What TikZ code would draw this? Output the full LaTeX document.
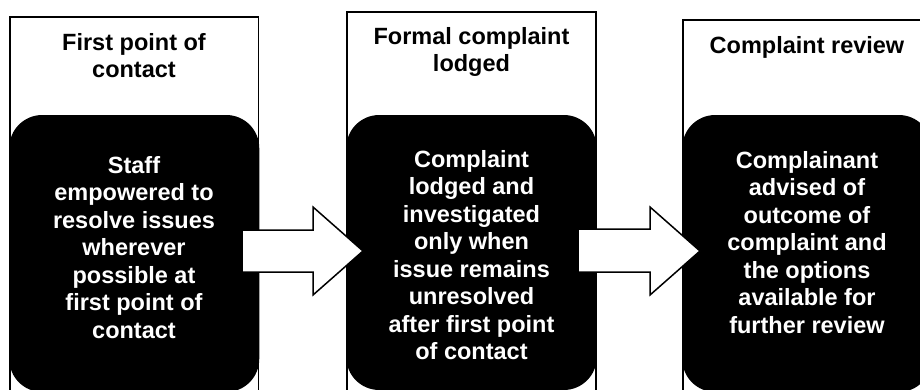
\documentclass[tikz,border=0pt]{standalone}
\usepackage{fontspec}
\setmainfont{Liberation Sans}
\begin{document}
\begin{tikzpicture}[x=1pt,y=-1pt,
  frame/.style={draw=black,line width=1.5pt,fill=white},
  darkbox/.style={fill=black,rounded corners=33pt},
  blockarrow/.style={draw=black,line width=1.5pt,fill=white,line join=miter},
  titletext/.style={anchor=north,align=center,inner sep=0pt,text=black,
    font=\fontsize{23.5}{27.5}\selectfont\bfseries},
  bodytext/.style={anchor=north,align=center,inner sep=0pt,text=white,
    font=\fontsize{23.5}{27.5}\selectfont\bfseries}]
\useasboundingbox (0,0) rectangle (920,389);
% column frames
\draw[frame] (10,17) rectangle (258.5,420);
\draw[frame] (347,12) rectangle (596,420);
\draw[frame] (683,20) rectangle (931,420);
% black rounded boxes
\path[darkbox] (9.25,115) rectangle (259.25,392);
\path[darkbox] (346.25,115) rectangle (596.75,390);
\path[darkbox] (682.25,115) rectangle (931.75,392);
% titles
\node[titletext] (t1) at (134,33) {First point of\\contact};
\node[titletext] (t2) at (471.5,27) {Formal complaint\\lodged};
\node[titletext] (t3) at (807,36) {Complaint review};
% bodies
\node[bodytext] (b1) at (134,156) {Staff\\empowered to\\resolve issues\\wherever\\possible at\\first point of\\contact};
\node[bodytext] (b2) at (471.5,150) {Complaint\\lodged and\\investigated\\only when\\issue remains\\unresolved\\after first point\\of contact};
\node[bodytext] (b3) at (807,151) {Complainant\\advised of\\outcome of\\complaint and\\the options\\available for\\further review};
% block arrows
\draw[blockarrow] (242,230) -- (313,230) -- (313,207) -- (363,251) -- (313,295) -- (313,272) -- (242,272) -- cycle;
\draw[blockarrow] (578,229) -- (650,229) -- (650,207) -- (700,251) -- (650,295) -- (650,272) -- (578,272) -- cycle;
\end{tikzpicture}
\end{document}
